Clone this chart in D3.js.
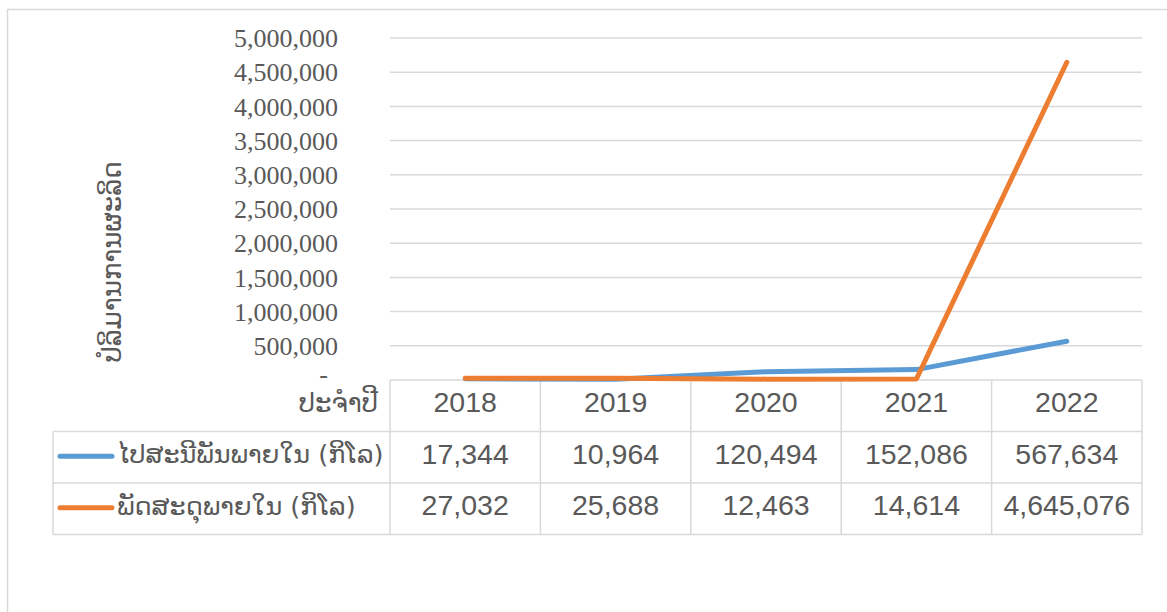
<!DOCTYPE html>
<html>
<head>
<meta charset="utf-8">
<script src="https://cdn.jsdelivr.net/npm/d3@7"></script>
<style>
  body { margin: 0; background: #fff; }
  svg { display: block; }
</style>
</head>
<body>
<svg width="1167" height="612"></svg>
<script>
// values
var years = ["2018", "2019", "2020", "2021", "2022"];
var postal = [17344, 10964, 120494, 152086, 567634];
var parcels = [27032, 25688, 12463, 14614, 4645076];
var seriesNames = ["ໄປສະນີພັນພາຍໃນ (ກິໂລ)", "ພັດສະດຸພາຍໃນ (ກິໂລ)"];
var seriesColors = ["#5B9BD5", "#ED7D31"];
var yTitle = "ປໍລິມານການຜະລິດ";
var headerLabel = "ປະຈຳປີ";
var yTickValues = [0, 500000, 1000000, 1500000, 2000000, 2500000, 3000000, 3500000, 4000000, 4500000, 5000000];

var series = [
  { name: seriesNames[0], values: postal, color: seriesColors[0] },
  { name: seriesNames[1], values: parcels, color: seriesColors[1] }
];

var svg = d3.select("svg"),
    grid = "#d9d9d9",
    textColor = "#595959",
    laoFont = "'DejaVu Sans', 'Noto Sans', sans-serif",
    numFont = "'Liberation Sans', Arial, sans-serif";

var x = d3.scaleBand().domain(years).range([390, 1142]).padding(0),
    y = d3.scaleLinear().domain([0, 5000000]).range([380, 38]);

var rowH = 51.5,
    tableTop = y(0),
    tableLeft = 53;

// chart area border (runs off the right and bottom)
svg.append("rect")
    .attr("x", 7.5).attr("y", 9.5)
    .attr("width", 1200).attr("height", 700)
    .attr("fill", "none")
    .attr("stroke", grid)
    .attr("stroke-width", 1.5);

// gridlines
svg.append("g")
  .selectAll("line")
  .data(yTickValues.filter(function(d) { return d > 0; }))
  .enter().append("line")
    .attr("x1", x.range()[0]).attr("x2", x.range()[1])
    .attr("y1", function(d) { return y(d); })
    .attr("y2", function(d) { return y(d); })
    .attr("stroke", grid)
    .attr("stroke-width", 1.5);

// y tick labels
var fmt = d3.format(",");
svg.append("g")
  .selectAll("text")
  .data(yTickValues)
  .enter().append("text")
    .attr("x", function(d) { return d === 0 ? 328 : 338; })
    .attr("y", function(d) { return y(d); })
    .attr("dy", function(d) { return d === 0 ? "0.1em" : "0.35em"; })
    .attr("text-anchor", "end")
    .attr("font-family", "'Liberation Serif', 'Times New Roman', serif")
    .attr("font-size", "26px")
    .attr("fill", textColor)
    .text(function(d) { return d === 0 ? "-" : fmt(d); });

// y axis title
svg.append("text")
    .attr("transform", "translate(121,262) rotate(-90)")
    .attr("text-anchor", "middle")
    .attr("font-family", laoFont)
    .attr("font-size", "26px")
    .attr("fill", textColor)
    .text(yTitle);

// data table
var table = svg.append("g");

// horizontal lines
[0, 1, 2, 3].forEach(function(i) {
  table.append("line")
      .attr("x1", i === 0 ? x.range()[0] : tableLeft)
      .attr("x2", x.range()[1])
      .attr("y1", tableTop + i * rowH)
      .attr("y2", tableTop + i * rowH)
      .attr("stroke", grid)
      .attr("stroke-width", 1.5);
});

// vertical lines
var colEdges = years.map(function(d) { return x(d); }).concat([x.range()[1]]);
table.selectAll(".vline")
  .data(colEdges)
  .enter().append("line")
    .attr("class", "vline")
    .attr("x1", function(d) { return d; })
    .attr("x2", function(d) { return d; })
    .attr("y1", tableTop)
    .attr("y2", tableTop + 3 * rowH)
    .attr("stroke", grid)
    .attr("stroke-width", 1.5);

table.append("line")
    .attr("x1", tableLeft).attr("x2", tableLeft)
    .attr("y1", tableTop + rowH).attr("y2", tableTop + 3 * rowH)
    .attr("stroke", grid)
    .attr("stroke-width", 1.5);

// header row
table.append("text")
    .attr("x", 378)
    .attr("y", tableTop + rowH / 2 - 3)
    .attr("dy", "0.35em")
    .attr("text-anchor", "end")
    .attr("font-family", laoFont)
    .attr("font-size", "26px")
    .attr("fill", textColor)
    .text(headerLabel);

table.selectAll(".year")
  .data(years)
  .enter().append("text")
    .attr("class", "year")
    .attr("x", function(d) { return x(d) + x.bandwidth() / 2; })
    .attr("y", tableTop + rowH / 2 - 4)
    .attr("dy", "0.36em")
    .attr("text-anchor", "middle")
    .attr("font-family", numFont)
    .attr("font-size", "28.5px")
    .attr("fill", textColor)
    .text(function(d) { return d; });

// series rows
series.forEach(function(s, i) {
  var cy = tableTop + (i + 1) * rowH + rowH / 2;
  table.append("line")
      .attr("x1", 60).attr("x2", 112)
      .attr("y1", cy - 1).attr("y2", cy - 1)
      .attr("stroke", s.color)
      .attr("stroke-width", 5)
      .attr("stroke-linecap", "round");
  table.append("text")
      .attr("x", 117)
      .attr("y", cy - 3)
      .attr("dy", "0.35em")
      .attr("font-family", laoFont)
      .attr("font-size", "25.5px")
      .attr("fill", textColor)
      .text(s.name);
  table.selectAll(".v" + i)
    .data(s.values)
    .enter().append("text")
      .attr("class", "v" + i)
      .attr("x", function(d, j) { return x(years[j]) + x.bandwidth() / 2; })
      .attr("y", cy - 4)
      .attr("dy", "0.36em")
      .attr("text-anchor", "middle")
      .attr("font-family", numFont)
      .attr("font-size", "28.5px")
      .attr("fill", textColor)
      .text(function(d) { return fmt(d); });
});

// lines
var line = d3.line()
    .x(function(d, j) { return x(years[j]) + x.bandwidth() / 2; })
    .y(function(d) { return y(d); });

svg.append("g")
  .selectAll("path")
  .data(series)
  .enter().append("path")
    .attr("d", function(s) { return line(s.values); })
    .attr("fill", "none")
    .attr("stroke", function(s) { return s.color; })
    .attr("stroke-width", 5)
    .attr("stroke-linejoin", "round")
    .attr("stroke-linecap", "round");
</script>
</body>
</html>
